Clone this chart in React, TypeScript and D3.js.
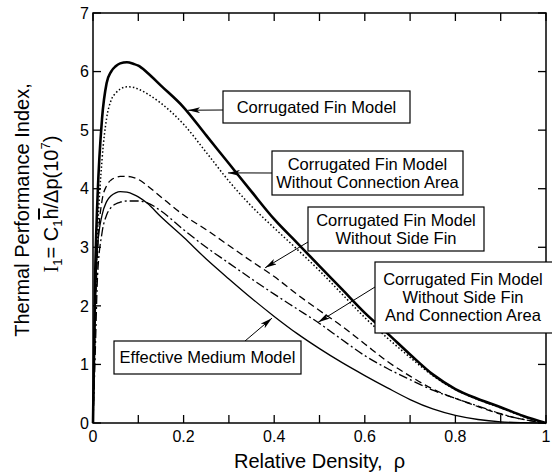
import React from 'react'
import * as d3 from 'd3'

// relative density grid (x) shared by all curves
const rho = [0, 0.005, 0.01, 0.02, 0.03, 0.04, 0.05, 0.06, 0.075, 0.09, 0.1, 0.12, 0.15, 0.2, 0.25, 0.3, 0.35, 0.4, 0.45, 0.5, 0.55, 0.6, 0.65, 0.7, 0.75, 0.8, 0.85, 0.9, 0.95, 1]

// thermal performance index I1 (x 10^7)
const corrugated = [0, 2.6, 3.85, 5.2, 5.8, 6.0, 6.09, 6.14, 6.16, 6.13, 6.1, 5.98, 5.76, 5.39, 4.91, 4.43, 3.95, 3.48, 3.08, 2.68, 2.28, 1.88, 1.53, 1.17, 0.83, 0.58, 0.41, 0.27, 0.12, 0]
const noConnection = [0, 2.0, 3.2, 4.5, 5.2, 5.51, 5.63, 5.7, 5.74, 5.73, 5.7, 5.62, 5.46, 5.1, 4.62, 4.13, 3.7, 3.33, 2.97, 2.6, 2.2, 1.8, 1.45, 1.12, 0.81, 0.57, 0.4, 0.26, 0.11, 0]
const noSideFin = [0, 1.8, 2.9, 3.8, 4.05, 4.15, 4.19, 4.21, 4.21, 4.19, 4.16, 4.05, 3.86, 3.55, 3.3, 3.03, 2.76, 2.5, 2.2, 1.92, 1.65, 1.35, 1.05, 0.8, 0.58, 0.42, 0.28, 0.15, 0.06, 0]
const noSideFinConn = [0, 1.2, 2.5, 3.25, 3.55, 3.68, 3.74, 3.77, 3.79, 3.79, 3.79, 3.76, 3.62, 3.3, 3.0, 2.73, 2.46, 2.2, 1.95, 1.7, 1.42, 1.15, 0.93, 0.74, 0.56, 0.42, 0.29, 0.16, 0.06, 0]
const effMedium = [0, 2.0, 3.0, 3.55, 3.78, 3.88, 3.93, 3.95, 3.94, 3.9, 3.86, 3.75, 3.52, 3.17, 2.8, 2.46, 2.13, 1.82, 1.53, 1.27, 1.03, 0.81, 0.6, 0.4, 0.24, 0.13, 0.06, 0.02, 0.005, 0]

const xTicks = [0, 0.1, 0.2, 0.3, 0.4, 0.5, 0.6, 0.7, 0.8, 0.9, 1]
const xLabels = ['0', '0.2', '0.4', '0.6', '0.8', '1']
const yTicks = [0, 1, 2, 3, 4, 5, 6, 7]

const labels = [
  ['Corrugated Fin Model'],
  ['Corrugated Fin Model', 'Without Connection Area'],
  ['Corrugated Fin Model', 'Without Side Fin'],
  ['Corrugated Fin Model', 'Without Side Fin', 'And Connection Area'],
  ['Effective Medium Model'],
]
// arrow tips in data units
const tips = [[0.21, 5.34], [0.298, 4.27], [0.38, 2.65], [0.497, 1.72], [0.395, 1.79]]

const font = '"Liberation Sans", Arial, Helvetica, sans-serif'

export default function App() {
  const x = d3.scaleLinear().domain([0, 1]).range([93, 546])
  const y = d3.scaleLinear().domain([0, 7]).range([423, 13])

  const line = d3.line<number>()
    .x((d, i) => x(rho[i]))
    .y(d => y(d))
    .curve(d3.curveMonotoneX)

  const series = [
    { v: corrugated, w: 2.6, dash: null },
    { v: noConnection, w: 1.5, dash: '1.5,2.2' },
    { v: noSideFin, w: 1.3, dash: '7,4' },
    { v: noSideFinConn, w: 1.3, dash: '9,3,2,3' },
    { v: effMedium, w: 1.3, dash: null },
  ]

  // box layout: x0, y0, x1, y1, arrow start x, y
  const boxes = [
    { b: [223, 91, 410, 123], from: [223, 110] },
    { b: [272, 151, 463, 195], from: [272, 173] },
    { b: [308, 207, 484, 251], from: [308, 242] },
    { b: [375, 262, 560, 333], from: [375, 287] },
    { b: [114, 341, 301, 374], from: [245, 341] },
  ]

  return (
    <svg width={552} height={474} style={{ position: 'absolute', left: 0, top: 0, background: '#fff' }} fontFamily={font}>
      <defs>
        <marker id="ah" viewBox="0 0 12 6" refX={12} refY={3} markerWidth={12} markerHeight={6} markerUnits="userSpaceOnUse" orient="auto">
          <path d="M0,0 L12,3 L0,6 L3,3 Z" fill="#000" />
        </marker>
      </defs>

      {series.map((s, i) => (
        <path key={i} d={line(s.v) || ''} fill="none" stroke="#000" strokeWidth={s.w}
          strokeDasharray={s.dash || undefined} strokeLinejoin="round" />
      ))}

      {/* frame */}
      <rect x={x(0)} y={y(7)} width={x(1) - x(0)} height={y(0) - y(7)} fill="none" stroke="#000" strokeWidth={1.5} />
      {xTicks.map(t => (
        <g key={'x' + t}>
          <line x1={x(t)} x2={x(t)} y1={y(0)} y2={y(0) - 8} stroke="#000" strokeWidth={1.3} />
          <line x1={x(t)} x2={x(t)} y1={y(7)} y2={y(7) + 8} stroke="#000" strokeWidth={1.3} />
        </g>
      ))}
      {yTicks.map(t => (
        <g key={'y' + t}>
          <line x1={x(0)} x2={x(0) + 8} y1={y(t)} y2={y(t)} stroke="#000" strokeWidth={1.3} />
          <line x1={x(1)} x2={x(1) - 8} y1={y(t)} y2={y(t)} stroke="#000" strokeWidth={1.3} />
          <text x={x(0) - 4} y={y(t)} dy="0.36em" textAnchor="end" fontSize={16}>{t}</text>
        </g>
      ))}
      {xLabels.map(l => (
        <text key={l} x={x(+l)} y={442} textAnchor="middle" fontSize={16}>{l}</text>
      ))}

      <text x={x(0.5)} y={468} textAnchor="middle" fontSize={20}>Relative Density,{'\u00a0\u00a0'}ρ</text>

      <text transform="translate(29,210) rotate(-90)" textAnchor="middle" fontSize={20}>Thermal Performance Index,</text>
      <text transform="translate(58,204) rotate(-90)" textAnchor="middle" fontSize={20}>
        <tspan fontFamily='"Liberation Serif", serif'>I</tspan>
        <tspan dy={4} fontSize={13}>1</tspan>
        <tspan dy={-4}>= C</tspan>
        <tspan dy={4} fontSize={13}>1</tspan>
        <tspan dy={-4} style={{ textDecoration: 'overline' }}>h</tspan>
        <tspan>/Δp(10</tspan>
        <tspan dy={-8} fontSize={13}>7</tspan>
        <tspan dy={8}>)</tspan>
      </text>

      {boxes.map((bx, i) => {
        const [x0, y0, x1, y1] = bx.b
        const lines = labels[i]
        const cy = (y0 + y1) / 2
        const cx = (x0 + Math.min(x1, 551)) / 2
        return (
          <g key={'b' + i}>
            <line x1={bx.from[0]} y1={bx.from[1]} x2={x(tips[i][0])} y2={y(tips[i][1])} stroke="#000" strokeWidth={1} markerEnd="url(#ah)" />
            <rect x={x0} y={y0} width={x1 - x0} height={y1 - y0} fill="#fff" stroke="#000" strokeWidth={1.2} />
            {lines.map((t, j) => (
              <text key={j} x={cx} y={cy + (j - (lines.length - 1) / 2) * 18} dy="0.36em" textAnchor="middle" fontSize={16.5}>{t}</text>
            ))}
          </g>
        )
      })}
    </svg>
  )
}
